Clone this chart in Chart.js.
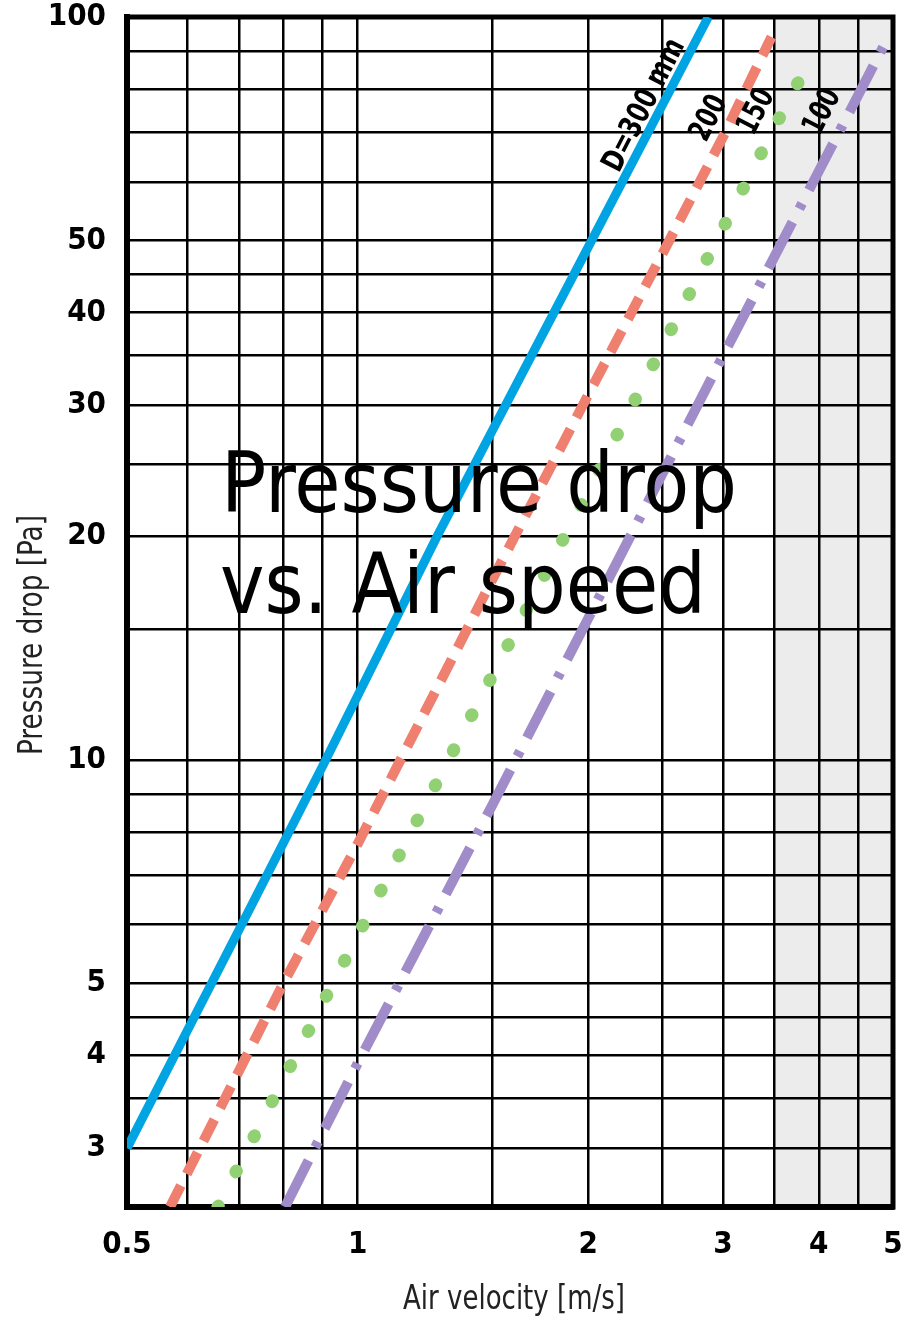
<!DOCTYPE html>
<html>
<head>
<meta charset="utf-8">
<title>Pressure drop vs. Air speed</title>
<script src="https://cdn.jsdelivr.net/npm/chart.js@4.4.1/dist/chart.umd.min.js"></script>
<style>
  html, body { margin: 0; padding: 0; background: #fff; }
  #wrap { position: relative; width: 909px; height: 1320px; }
</style>
</head>
<body>
<div id="wrap"><canvas id="pressureChart"></canvas></div>
<script>
// Duct diameters
const ductLabels = ['D=300 mm', '200', '150', '100'];

// Air velocity [m/s] and pressure drop [Pa]
const d300Velocity = [0.5, 0.7, 0.9, 1.27, 2, 2.87];
const d300Pressure = [3.0, 5.9, 9.8, 20, 49, 100];
const d200Velocity = [0.569, 0.8, 1, 1.5, 2, 2.5, 3, 3.47];
const d200Pressure = [2.5, 5, 7.7, 17.5, 31, 48, 69, 94];
const d150Velocity = [0.657, 1, 1.5, 2, 2.5, 3, 3.5, 3.93];
const d150Pressure = [2.5, 5.8, 13, 23, 36, 52, 71, 89];
const d100Velocity = [0.804, 1, 1.5, 2, 3, 4, 4.93];
const d100Pressure = [2.5, 3.9, 8.7, 15.5, 35, 62, 94];

// Grid lines and tick labels
const velocityGrid = [0.5, 0.6, 0.7, 0.8, 0.9, 1, 1.5, 2, 2.5, 3, 3.5, 4, 4.5, 5];
const velocityTickLabels = [0.5, 1, 2, 3, 4, 5];
const pressureGrid = [2.5, 3, 3.5, 4, 4.5, 5, 6, 7, 8, 9, 10, 15, 20, 25, 30, 35, 40, 45, 50, 60, 70, 80, 90, 100];
const pressureTickLabels = [3, 4, 5, 10, 20, 30, 40, 50, 100];

// Shaded velocity band [m/s]
const shadedBand = [3.5, 5];

// Where the curve names sit (velocity, pressure)
const labelVelocity = [2.37, 2.88, 3.32, 4.05];
const labelPressure = [76, 73, 74.5, 74.5];

const toPoints = (xs, ys) => xs.map((x, i) => ({ x: x, y: ys[i] }));

const narrowFont = "'Liberation Sans Narrow', 'DejaVu Sans Condensed', sans-serif";
const tickFont = { family: narrowFont, size: 31, weight: 'bold' };

// draw text squeezed horizontally to a given width
function fitText(ctx, text, cx, cy, width, angle) {
    const sx = Math.min(1, width / ctx.measureText(text).width);
    ctx.save();
    ctx.translate(cx, cy);
    ctx.rotate(angle || 0);
    ctx.scale(sx, 1);
    ctx.fillText(text, 0, 0);
    ctx.restore();
}

// Background band, frame, titles and curve names
const chartDecor = {
    id: 'chartDecor',
    beforeDraw(chart) {
        const { ctx, chartArea: a, scales: { x } } = chart;
        ctx.save();
        ctx.fillStyle = '#fff';
        ctx.fillRect(0, 0, chart.width, chart.height);
        const left = x.getPixelForValue(shadedBand[0]);
        ctx.fillStyle = '#ececec'; // light grey band
        ctx.fillRect(left, a.top, x.getPixelForValue(shadedBand[1]) - left, a.bottom - a.top);
        ctx.restore();
    },
    beforeDatasetsDraw(chart) {
        const { ctx, chartArea: a } = chart;
        ctx.save();
        ctx.strokeStyle = '#000';
        ctx.lineWidth = 5;
        ctx.strokeRect(a.left, a.top, a.right - a.left, a.bottom - a.top);
        ctx.restore();
    },
    afterDatasetsDraw(chart) {
        const { ctx, scales: { x, y } } = chart;
        ctx.save();

        // curve names, rotated along their curve
        ctx.fillStyle = '#000';
        ctx.font = 'bold 31px ' + narrowFont;
        ctx.textAlign = 'center';
        ctx.textBaseline = 'middle';
        chart.data.datasets.forEach((ds, i) => {
            const p0 = ds.data[0], p1 = ds.data[ds.data.length - 1];
            const ang = Math.atan2(y.getPixelForValue(p1.y) - y.getPixelForValue(p0.y),
                                   x.getPixelForValue(p1.x) - x.getPixelForValue(p0.x));
            const w = i === 0 ? 145 : 47;
            fitText(ctx, ductLabels[i], x.getPixelForValue(labelVelocity[i]), y.getPixelForValue(labelPressure[i]), w, ang);
        });

        // axis titles
        ctx.fillStyle = '#222';
        ctx.font = '34px ' + narrowFont;
        fitText(ctx, 'Air velocity [m/s]', 514, 1300, 222);
        fitText(ctx, 'Pressure drop [Pa]', 33, 635, 240, -Math.PI / 2);

        // big overlay title
        ctx.fillStyle = '#000';
        ctx.font = "84px 'DejaVu Sans', sans-serif";
        ctx.textAlign = 'left';
        ctx.textBaseline = 'alphabetic';
        const sx = 516 / ctx.measureText('Pressure drop').width;
        ctx.save();
        ctx.translate(221, 512);
        ctx.scale(sx, 1);
        ctx.fillText('Pressure drop', 0, 0);
        ctx.restore();
        ctx.save();
        ctx.translate(220, 613);
        ctx.scale(sx, 1);
        ctx.fillText('vs. Air speed', 0, 0);
        ctx.restore();

        ctx.restore();
    }
};

const pressureChart = new Chart(document.getElementById('pressureChart'), {
    type: 'line',
    data: {
        datasets: [{
            label: ductLabels[0],
            data: toPoints(d300Velocity, d300Pressure),
            borderColor: '#00a4e2', // sky blue, solid
            borderWidth: 9
        }, {
            label: ductLabels[1],
            data: toPoints(d200Velocity, d200Pressure),
            borderColor: '#ef806f', // salmon, dashed
            borderWidth: 10,
            borderDash: [24, 13]
        }, {
            label: ductLabels[2],
            data: toPoints(d150Velocity, d150Pressure),
            borderColor: '#92d173', // light green, dotted
            borderWidth: 13,
            borderDash: [1, 38.5],
            borderCapStyle: 'round'
        }, {
            label: ductLabels[3],
            data: toPoints(d100Velocity, d100Pressure),
            borderColor: '#a18cca', // lavender, dash-dot
            borderWidth: 10,
            borderDash: [52, 15, 6, 15]
        }]
    },
    options: {
        responsive: true,
        maintainAspectRatio: false,
        animation: false,
        layout: { padding: { top: 17, right: 16, left: 0, bottom: 0 } },
        elements: { point: { radius: 0 }, line: { tension: 0, fill: false } },
        plugins: {
            legend: { display: false },
            tooltip: { enabled: false }
        },
        scales: {
            x: {
                type: 'logarithmic',
                min: 0.5,
                max: 5,
                afterBuildTicks: axis => { axis.ticks = velocityGrid.map(v => ({ value: v })); },
                afterFit: axis => { axis.height = 113; axis.paddingLeft = 0; axis.paddingRight = 0; },
                grid: { color: '#000', lineWidth: 2.5, drawTicks: false },
                border: { color: '#000', width: 6 },
                ticks: {
                    autoSkip: false,
                    maxRotation: 0,
                    padding: 19,
                    color: '#000',
                    font: tickFont,
                    callback: v => velocityTickLabels.includes(v) ? String(v) : ''
                }
            },
            y: {
                type: 'logarithmic',
                min: 2.5,
                max: 100,
                afterBuildTicks: axis => { axis.ticks = pressureGrid.map(v => ({ value: v })); },
                afterFit: axis => { axis.width = 127; axis.paddingTop = 0; axis.paddingBottom = 0; },
                grid: { color: '#000', lineWidth: 2.5, drawTicks: false },
                border: { color: '#000', width: 6 },
                ticks: {
                    autoSkip: false,
                    padding: 21,
                    color: '#000',
                    font: tickFont,
                    callback: v => pressureTickLabels.includes(v) ? String(v) : ''
                }
            }
        }
    },
    plugins: [chartDecor]
});
</script>
</body>
</html>
